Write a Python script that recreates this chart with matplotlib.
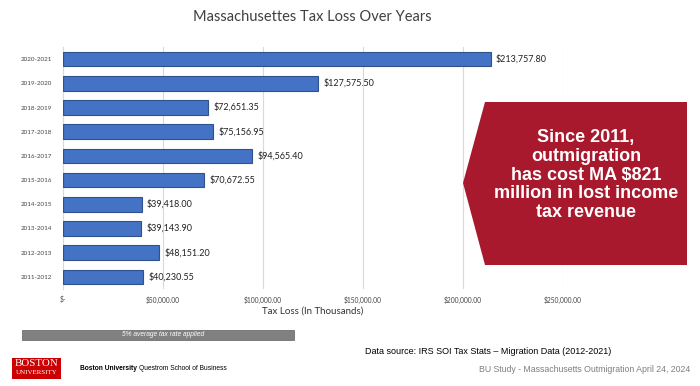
import matplotlib.pyplot as plt
from matplotlib.patches import Polygon, Rectangle

years = ["2011-2012", "2012-2013", "2013-2014", "2014-2015", "2015-2016",
         "2016-2017", "2017-2018", "2018-2019", "2019-2020", "2020-2021"]
tax_loss = [40230.55, 48151.20, 39143.90, 39418.00, 70672.55,
            94565.40, 75156.95, 72651.35, 127575.50, 213757.80]
x_ticks = [0, 50000, 100000, 150000, 200000, 250000]
x_tick_labels = ["$-", "$50,000.00", "$100,000.00", "$150,000.00", "$200,000.00", "$250,000.00"]

fig = plt.figure(figsize=(7, 3.86), dpi=100)
fig.patch.set_facecolor("white")

ax = fig.add_axes([63/700, 1-289/386, 500/700, 242/386])
ax.barh(range(len(years)), tax_loss, height=0.6, color="#4472C4",
        edgecolor="#2F528F", linewidth=0.8, zorder=3)
for i, v in enumerate(tax_loss):
    ax.text(v + 2500, i, "${:,.2f}".format(v), va="center", ha="left",
            fontsize=6.5, color="#222222", family="Lato")

ax.set_xlim(0, 250000)
ax.set_ylim(-0.5, len(years) - 0.5)
ax.set_yticks(range(len(years)))
ax.set_yticklabels(years, fontsize=4.5, color="#444444", family="Lato")
ax.set_xticks(x_ticks)
ax.set_xticklabels(x_tick_labels, fontsize=4.8, color="#444444", family="Lato")
ax.tick_params(axis="y", length=0, pad=8)
ax.tick_params(axis="x", length=0, pad=5)
ax.grid(axis="x", color="#D9D9D9", linewidth=0.8, zorder=0)
for s in ["top", "right", "bottom"]:
    ax.spines[s].set_visible(False)
ax.spines["left"].set_color("#D9D9D9")
ax.set_xlabel("Tax Loss (In Thousands)", fontsize=7, color="#333333",
              family="Lato", labelpad=2)
fig.text(312/700, 1-17/386, "Massachusettes Tax Loss Over Years", ha="center",
         va="center", fontsize=10.5, color="#404040", family="Lato")

# red callout arrow
arrow = Polygon([(485/700, 1-102/386), (687/700, 1-102/386), (687/700, 1-265/386),
                 (485/700, 1-265/386), (463/700, 1-183/386)], closed=True,
                transform=fig.transFigure, facecolor="#A8192E", edgecolor="none")
fig.patches.append(arrow)
fig.text(586/700, 1-175/386,
         "Since 2011,\noutmigration\nhas cost MA $821\nmillion in lost income\ntax revenue",
         ha="center", va="center", fontsize=13, fontweight="bold", color="white",
         family="Liberation Sans", linespacing=1.15)

# gray note bar
fig.patches.append(Rectangle((22/700, 1-340/386), 272/700, 10/386,
                             transform=fig.transFigure, facecolor="#808080",
                             edgecolor="#606060", linewidth=0.5))
fig.text(163/700, 1-335/386, "5% average tax rate applied", ha="center", va="center",
         fontsize=4.8, color="white", style="italic", family="Liberation Sans")

fig.text(365/700, 1-351/386, "Data source: IRS SOI Tax Stats \u2013 Migration Data (2012-2021)",
         ha="left", va="center", fontsize=6.5, color="black", family="Liberation Sans")

# BU logo and footer
fig.patches.append(Rectangle((12/700, 1-379/386), 49/700, 21/386,
                             transform=fig.transFigure, facecolor="#CC0000",
                             edgecolor="none"))
fig.text(36.5/700, 1-363/386, "BOSTON", ha="center", va="center", fontsize=7.8,
         color="white", family="Liberation Serif")
fig.text(36.5/700, 1-373/386, "UNIVERSITY", ha="center", va="center", fontsize=5,
         color="white", family="Liberation Serif")
fig.text(80/700, 1-369/386, "Boston University", ha="left", va="center", fontsize=4.8,
         color="black", fontweight="bold", family="Liberation Sans")
fig.text(139/700, 1-369/386, "Questrom School of Business", ha="left", va="center",
         fontsize=4.8, color="black", family="Liberation Sans")
fig.text(690/700, 1-370/386, "BU Study - Massachusetts Outmigration April 24, 2024",
         ha="right", va="center", fontsize=6.3, color="#7F7F7F", family="Liberation Sans")

fig.savefig("out.png", dpi=100)
